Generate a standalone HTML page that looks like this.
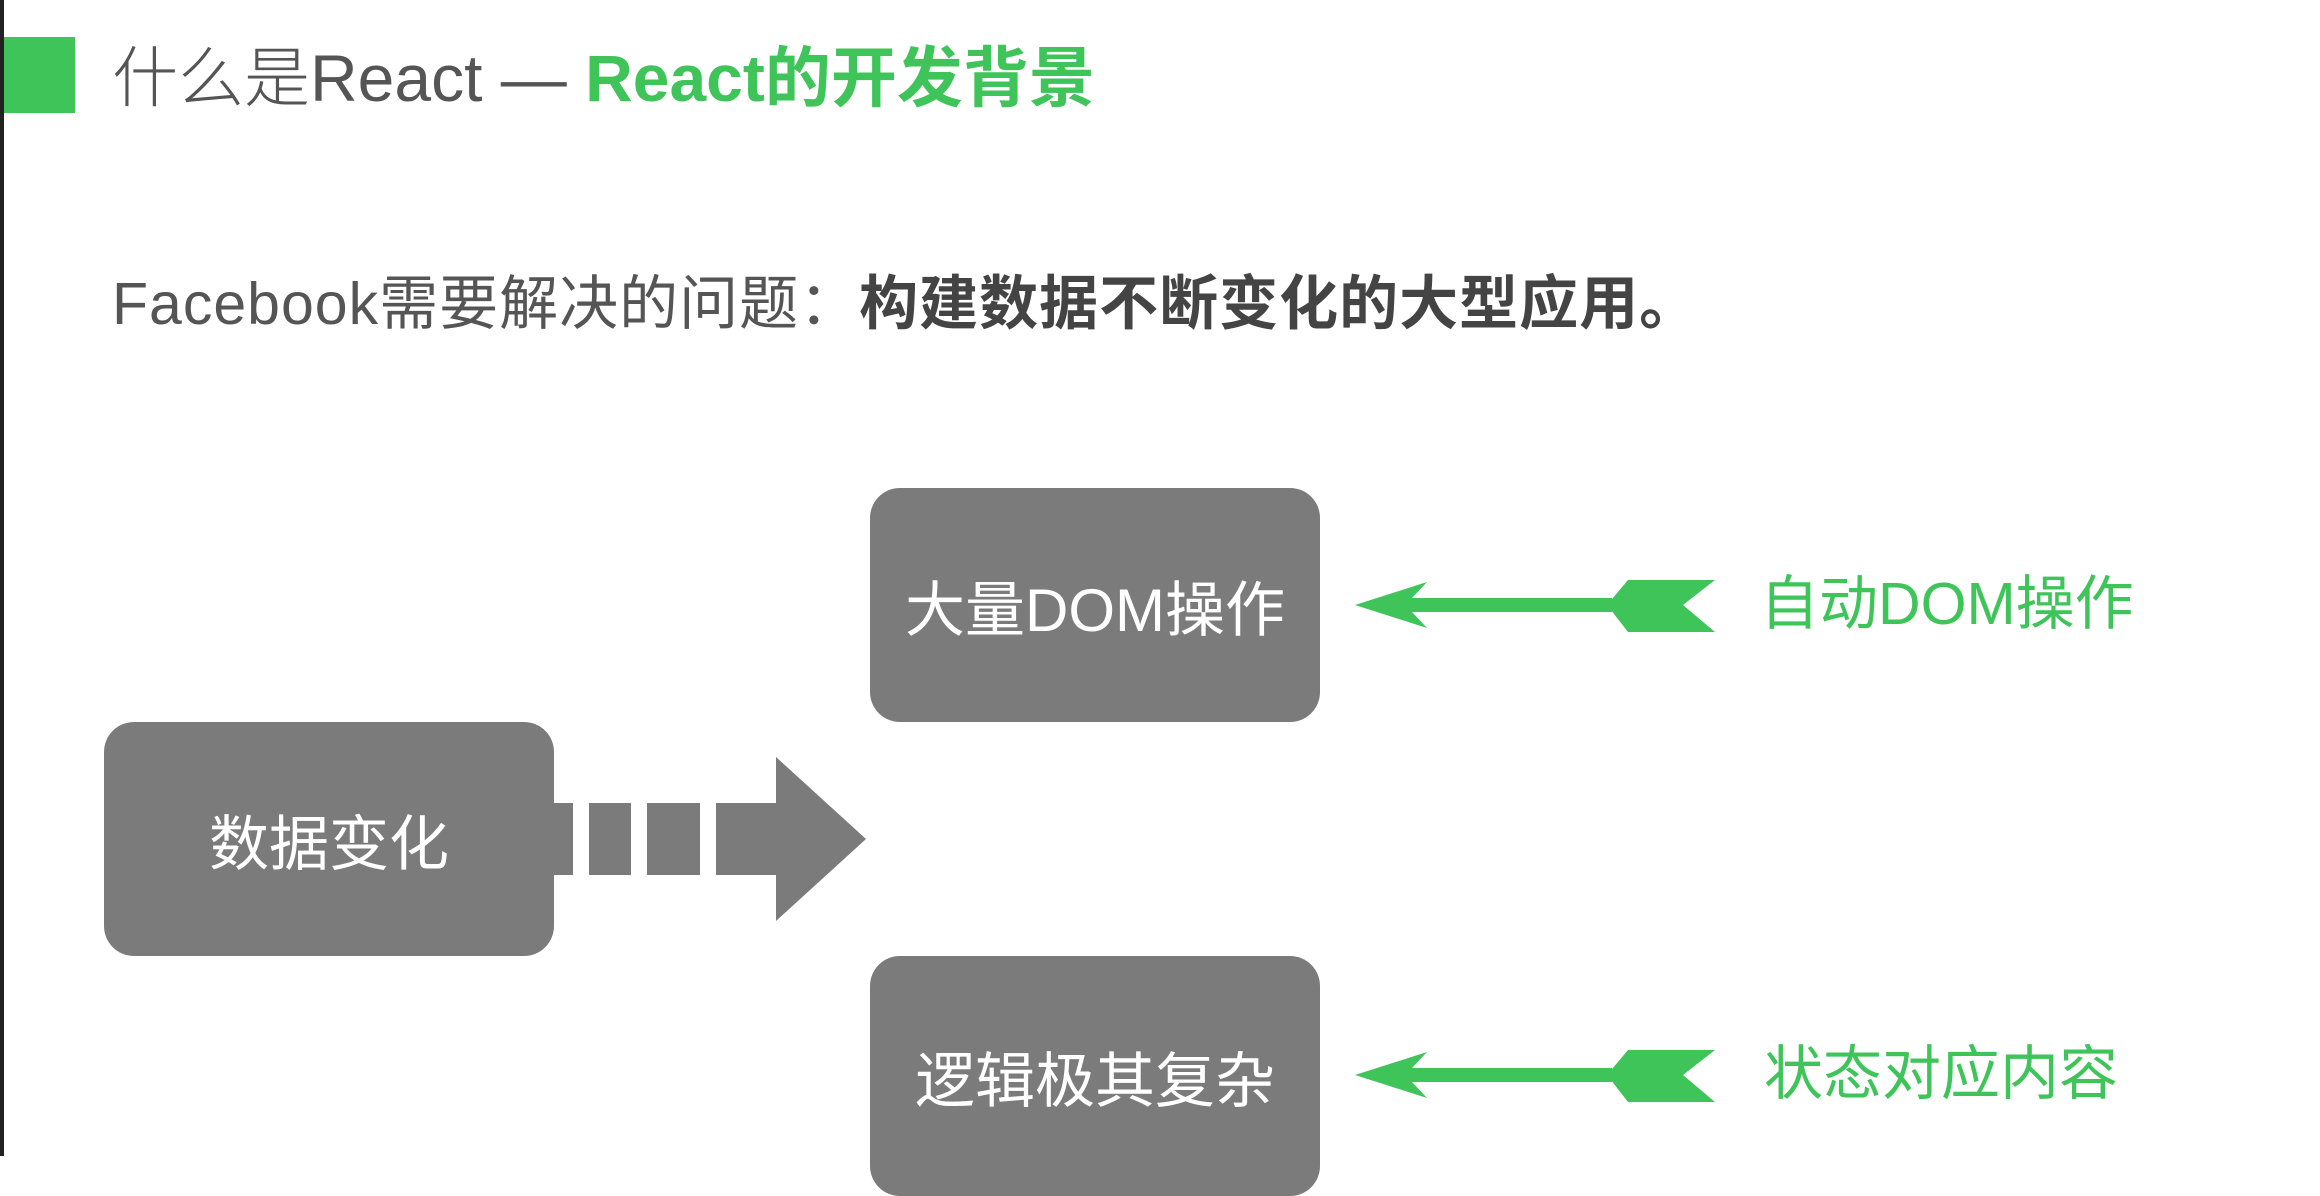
<!DOCTYPE html>
<html><head><meta charset="utf-8"><style>
body{margin:0;width:2320px;height:1156px;background:#fff;position:relative;overflow:hidden;font-family:"Liberation Sans","Noto Sans CJK SC",sans-serif;}
.a{position:absolute;}
.box{position:absolute;background:#7b7b7b;border-radius:30px;color:#fff;font-size:60px;display:flex;align-items:center;justify-content:center;}
</style></head><body>
<div class="a" style="left:0;top:0;width:4px;height:1156px;background:#222"></div>
<div class="a" style="left:4px;top:37px;width:71px;height:76px;background:#3fc45a"></div>
<div class="a" style="left:112px;top:35px;font-size:66px;font-weight:300;color:#555;white-space:nowrap;line-height:86px">什么是React — <span style="color:#3fc45a;font-weight:700">React的开发背景</span></div>
<div class="a" style="left:112px;top:266px;font-size:59px;color:#555;white-space:nowrap;line-height:76px;letter-spacing:1px">Facebook需要解决的问题：<span style="color:#444;font-weight:700">构建数据不断变化的大型应用。</span></div>
<div class="box" style="left:870px;top:488px;width:450px;height:234px">大量DOM操作</div>
<div class="box" style="left:104px;top:722px;width:450px;height:234px">数据变化</div>
<div class="box" style="left:870px;top:956px;width:450px;height:240px">逻辑极其复杂</div>
<svg class="a" style="left:0;top:0" width="2320" height="1156">
<g fill="#7b7b7b">
<rect x="550" y="803" width="23" height="72"/>
<rect x="589" y="803" width="42" height="72"/>
<rect x="647" y="803" width="53" height="72"/>
<rect x="716" y="803" width="62" height="72"/>
<polygon points="776,757 866,839 776,921"/>
</g>
<g fill="#3fc45a">
<polygon points="1355,605 1427,582 1412,598 1612,598 1612,612 1412,612 1427,628"/>
<polygon points="1607,605 1628,580 1715,580 1683,605 1715,632 1628,632"/>
<polygon points="1355,1075 1427,1052 1412,1068 1612,1068 1612,1082 1412,1082 1427,1098"/>
<polygon points="1607,1075 1628,1050 1715,1050 1683,1075 1715,1102 1628,1102"/>
</g>
</svg>
<div class="a" style="left:1760px;top:568px;font-size:59px;color:#3fc45a;line-height:72px;white-space:nowrap">自动DOM操作</div>
<div class="a" style="left:1764px;top:1038px;font-size:59px;color:#3fc45a;line-height:72px;white-space:nowrap">状态对应内容</div>
</body></html>
